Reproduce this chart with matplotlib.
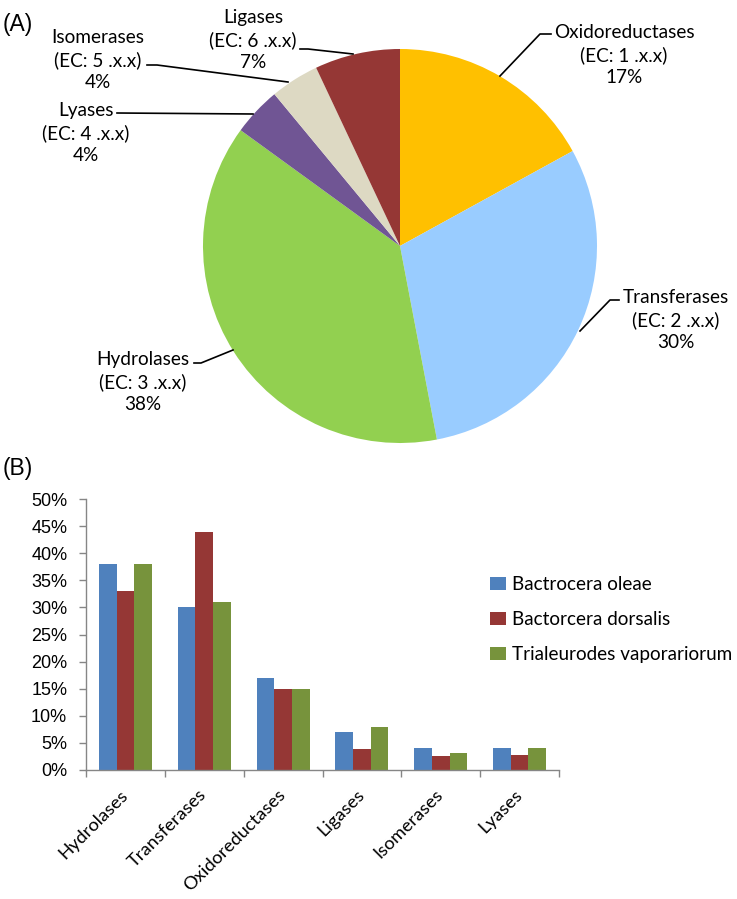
import matplotlib
matplotlib.use("Agg")
import matplotlib.pyplot as plt
import numpy as np

# ---- data ----
pie_labels = ["Oxidoreductases", "Transferases", "Hydrolases", "Lyases", "Isomerases", "Ligases"]
pie_ec = ["1", "2", "3", "4", "5", "6"]
pie_values = [17, 30, 38, 4, 4, 7]
pie_colors = ["#FFC000", "#99CCFF", "#92D050", "#705594", "#DDD9C3", "#953735"]

bar_categories = ["Hydrolases", "Transferases", "Oxidoreductases", "Ligases", "Isomerases", "Lyases"]
series_names = ["Bactrocera oleae", "Bactorcera dorsalis", "Trialeurodes vaporariorum"]
oleae = [38, 30, 17, 7, 4, 4]
dorsalis = [33, 44, 15, 3.8, 2.6, 2.8]
trialeurodes = [38, 31, 15, 8, 3.1, 4]
bar_colors = ["#4F81BD", "#953735", "#77933C"]
yticks = [0, 5, 10, 15, 20, 25, 30, 35, 40, 45, 50]

W, H = 737, 899
fig = plt.figure(figsize=(W / 100, H / 100), dpi=100)
lab_font = "Lato"

# ---- pie (panel A) ----
ax0 = fig.add_axes([0, 0, 1, 1])
cx, cy, R = 400, H - 246, 197
ax0.pie(pie_values, colors=pie_colors, startangle=90, counterclock=False,
        center=(cx, cy), radius=R, wedgeprops=dict(linewidth=0))
ax0.set_xlim(0, W)
ax0.set_ylim(0, H)
ax0.set_aspect("auto")
ax0.axis("off")

def P(x, y):
    return (x, H - y)

label_pos = {
    "Oxidoreductases": (624, 55),
    "Transferases": (676, 320),
    "Hydrolases": (143, 382),
    "Lyases": (86, 133),
    "Isomerases": (98, 60),
    "Ligases": (253, 40),
}
leaders = {
    "Oxidoreductases": [(551, 34), (540, 34), (500, 76)],
    "Transferases": [(619, 300), (610, 300), (580, 331)],
    "Hydrolases": [(194, 363), (201, 363), (233, 350)],
    "Lyases": [(117, 113), (253, 114)],
    "Isomerases": [(147, 65), (157, 65), (288, 82)],
    "Ligases": [(300, 49), (308, 49), (353, 54)],
}
for name, ec, v in zip(pie_labels, pie_ec, pie_values):
    x, y = label_pos[name]
    ax0.text(*P(x, y), f"{name}\n(EC: {ec} .x.x)\n{v}%", ha="center", va="center",
             fontsize=13.7, family=lab_font, linespacing=1.32)
    pts = leaders[name]
    ax0.plot([p[0] for p in pts], [H - p[1] for p in pts], color="black", lw=1.2)

ax0.text(*P(3, 24), "(A)", fontsize=16.5, family="Liberation Sans", va="center", ha="left")
ax0.text(*P(3, 468), "(B)", fontsize=16.5, family="Liberation Sans", va="center", ha="left")

# ---- bars (panel B) ----
left, right, top, bottom = 86, 559, 499, 770
ax = fig.add_axes([left / W, (H - bottom) / H, (right - left) / W, (bottom - top) / H])
x = np.arange(len(bar_categories))
bw = 0.224
for i, (vals, c, nm) in enumerate(zip([oleae, dorsalis, trialeurodes], bar_colors, series_names)):
    ax.bar(x + (i - 1) * bw, vals, width=bw, color=c, label=nm, linewidth=0)
ax.set_xlim(-0.5, len(bar_categories) - 0.5)
ax.set_ylim(0, 50)
ax.set_yticks(yticks)
ax.set_yticklabels([f"{t}%" for t in yticks], fontsize=13, family="Liberation Sans")
ax.set_xticks(x)
ax.set_xticklabels(bar_categories, rotation=45, ha="right", va="center", rotation_mode="anchor",
                   fontsize=13.2, family=lab_font)
ax.tick_params(axis="x", which="major", length=0, pad=16)
ax.set_xticks(np.arange(-0.5, len(bar_categories)), minor=True)
ax.tick_params(axis="x", which="minor", length=5, color="#868686", width=1)
ax.tick_params(axis="y", length=5, color="#868686", width=1, pad=8.5)
for s in ["top", "right"]:
    ax.spines[s].set_visible(False)
for s in ["left", "bottom"]:
    ax.spines[s].set_color("#868686")
    ax.spines[s].set_linewidth(1)

leg = fig.legend(loc="upper left", bbox_to_anchor=(490 / W, 1 - 576 / H), frameon=False,
                 prop=dict(family=lab_font, size=13.6), handlelength=0.85, handleheight=0.65,
                 handletextpad=0.3, labelspacing=0.95, borderaxespad=0, borderpad=0)

fig.savefig("out.png", dpi=100)
